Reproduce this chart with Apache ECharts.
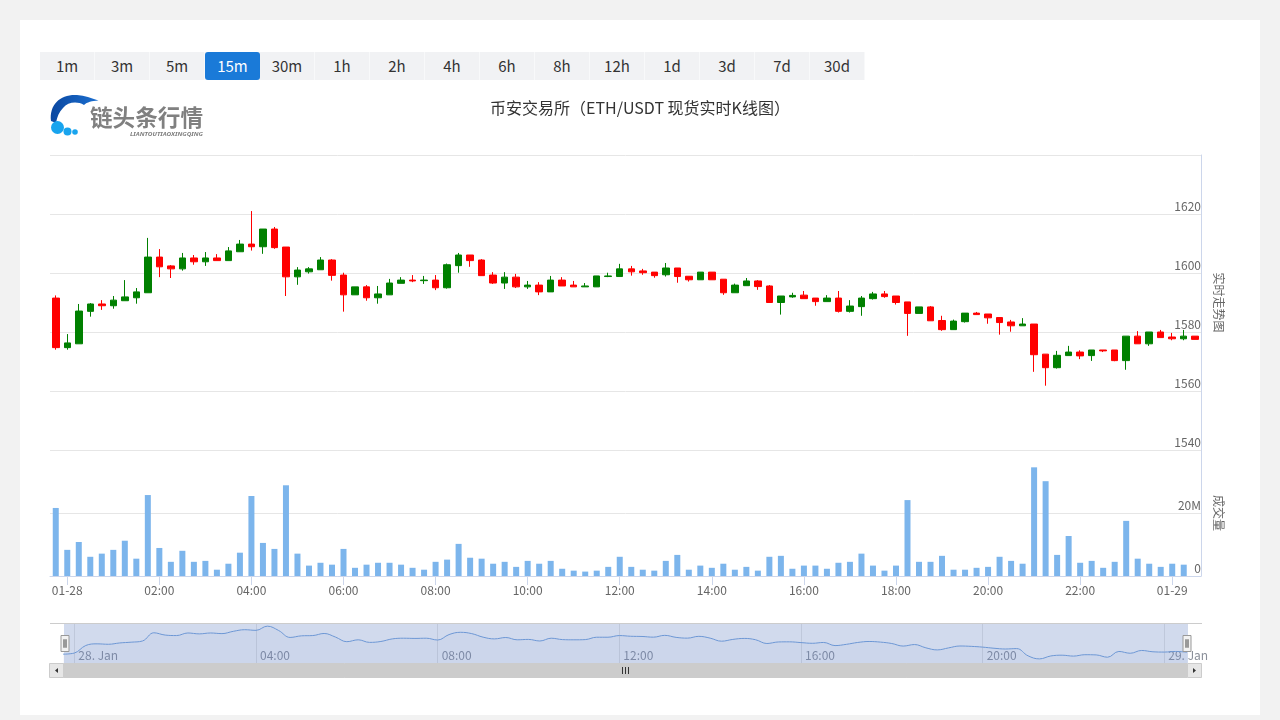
<!DOCTYPE html>
<html>
<head>
<meta charset="utf-8">
<script src="https://cdn.jsdelivr.net/npm/echarts@6.0.0/dist/echarts.min.js"></script>
<style>
html,body{margin:0;padding:0;background:#f2f2f2;width:1280px;height:720px;overflow:hidden;font-family:'Noto Sans CJK SC','Noto Sans',sans-serif;}
#card{position:absolute;left:20px;top:20px;width:1240px;height:695px;background:#fff;}
#chart{position:absolute;left:0;top:0;width:1280px;height:720px;}
#btns{position:absolute;left:40px;top:52px;height:28px;display:flex;background:#f1f2f4;}
.b{width:55px;height:28px;line-height:28px;text-align:center;font-size:15px;color:#333;box-sizing:border-box;border-right:1px solid #f8f9fa;}
.b.on{background:#1a7ad8;color:#fff;border-radius:3px;border-right:none;}
#logo{position:absolute;left:40px;top:88px;}
</style>
</head>
<body>
<div id="card"></div>
<div id="chart"></div>
<div id="btns"></div>
<svg id="logo" width="180" height="55" viewBox="40 88 180 55">
  <defs><linearGradient id="lg" x1="0" y1="0" x2="1" y2="0"><stop offset="0" stop-color="#0a47a0"/><stop offset="1" stop-color="#1c6fd0"/></linearGradient></defs>
  <path d="M51,121 C49,104 61,94 77,95 C85,95.5 91,98 98.5,100.5 C92,101 87,102 84,105 C77,101 68,102 63,108 C59,112 57,117 56,123 Z" fill="url(#lg)"/>
  <circle cx="57.5" cy="127.5" r="6.5" fill="#18a4ee"/>
  <circle cx="67.5" cy="131.5" r="4" fill="#18a4ee"/>
  <circle cx="75" cy="132" r="2.8" fill="#18a4ee"/>
  <text x="90" y="125.5" font-size="23" font-weight="bold" fill="#808080" font-family="Noto Sans CJK SC" textLength="113" lengthAdjust="spacingAndGlyphs">链头条行情</text>
  <text x="130" y="135.5" font-size="6" font-weight="bold" font-style="italic" fill="#808080" font-family="Noto Sans" textLength="73" lengthAdjust="spacingAndGlyphs">LIANTOUTIAOXINGQING</text>
</svg>
<script>
// ---------- data ----------
const periods = ['1m','3m','5m','15m','30m','1h','2h','4h','6h','8h','12h','1d','3d','7d','30d'];
const activePeriod = '15m';
const titleText = '币安交易所（ETH/USDT 现货实时K线图）';

const opens  = [1591.5,1574.7,1576.0,1587.0,1589.5,1588.9,1590.6,1591.6,1593.3,1605.4,
                1602.4,1601.4,1605.1,1603.8,1605.1,1604.2,1607.2,1609.8,1608.9,1614.9,
                1608.8,1598.7,1600.4,1601.1,1604.4,1599.3,1592.6,1595.3,1591.6,1592.6,
                1596.5,1597.6,1597.4,1597.6,1595.0,1602.5,1606.1,1604.4,1599.3,1596.6,
                1598.6,1595.3,1595.9,1593.6,1597.6,1595.9,1595.3,1595.3,1598.8,1598.8,
                1601.4,1600.7,1600.3,1599.4,1601.7,1598.9,1597.7,1600.3,1597.9,1593.3,
                1595.7,1597.3,1595.6,1590.0,1591.9,1592.5,1591.5,1590.3,1591.5,1587.0,
                1588.6,1591.3,1592.9,1592.2,1590.2,1586.3,1588.5,1583.9,1580.8,1583.5,
                1586.4,1586.1,1584.9,1583.4,1582.1,1582.7,1572.5,1567.9,1572.0,1573.2,
                1572.0,1573.9,1573.9,1570.3,1578.6,1576.0,1580.0,1578.3,1577.7,1578.6];
const closes = [1574.7,1576.3,1587.1,1589.5,1588.9,1590.8,1591.9,1593.6,1605.4,1602.1,
                1601.4,1605.1,1603.8,1605.1,1604.2,1607.5,1609.8,1608.9,1614.9,1608.6,
                1598.7,1601.0,1601.4,1604.4,1599.2,1592.6,1595.3,1591.6,1592.9,1596.6,
                1597.6,1597.3,1597.6,1595.0,1602.8,1606.1,1604.2,1599.1,1596.6,1598.6,
                1595.3,1595.9,1593.6,1597.6,1595.6,1595.3,1595.6,1599.0,1599.0,1601.4,
                1600.4,1600.1,1599.1,1601.7,1598.8,1597.7,1600.3,1597.7,1593.3,1595.9,
                1597.3,1595.4,1590.0,1592.2,1592.4,1591.3,1590.3,1591.5,1587.0,1588.8,
                1591.5,1592.9,1592.0,1590.0,1586.3,1588.5,1583.8,1580.8,1583.7,1586.4,
                1585.9,1584.8,1583.2,1582.1,1582.7,1572.3,1567.9,1572.1,1573.2,1571.9,
                1573.9,1573.6,1570.3,1578.6,1576.0,1580.0,1578.1,1577.7,1578.6,1577.5];
const lows   = [1574.0,1574.0,1576.0,1585.2,1587.5,1587.9,1590.6,1589.6,1593.3,1598.6,
                1598.3,1600.8,1602.8,1602.4,1604.2,1604.2,1607.2,1607.6,1606.5,1608.2,
                1592.2,1596.0,1599.8,1601.1,1597.4,1586.9,1592.6,1590.6,1589.6,1592.6,
                1596.5,1596.9,1596.3,1594.2,1594.7,1600.1,1602.1,1599.1,1596.3,1594.6,
                1594.9,1594.6,1592.5,1593.6,1595.6,1595.3,1595.3,1595.3,1598.6,1598.8,
                1599.1,1599.4,1598.4,1598.8,1596.7,1597.1,1597.7,1597.7,1592.6,1593.3,
                1595.7,1594.3,1590.0,1585.9,1591.6,1591.3,1588.9,1590.3,1586.6,1586.6,
                1585.5,1591.0,1591.6,1589.3,1578.7,1586.3,1583.8,1580.4,1580.8,1583.2,
                1585.9,1582.8,1579.1,1580.1,1582.1,1566.5,1561.8,1567.6,1572.0,1570.8,
                1570.2,1573.2,1570.1,1567.2,1576.0,1575.3,1578.1,1577.2,1577.2,1577.5];
const highs  = [1592.4,1579.3,1589.5,1589.8,1590.8,1592.2,1597.6,1594.9,1611.9,1608.1,
                1602.7,1606.8,1606.1,1607.1,1606.4,1608.8,1611.2,1621.0,1614.9,1615.6,
                1608.8,1602.0,1602.0,1605.4,1604.7,1600.1,1595.3,1595.9,1595.6,1598.0,
                1598.6,1599.3,1599.0,1599.3,1603.2,1606.8,1606.1,1604.7,1600.3,1600.3,
                1599.7,1597.3,1596.9,1599.0,1598.6,1597.3,1596.6,1599.0,1600.1,1603.1,
                1602.4,1601.4,1600.3,1603.4,1601.7,1598.9,1600.3,1600.3,1597.9,1596.4,
                1598.3,1597.6,1595.9,1592.2,1593.3,1593.9,1591.5,1592.5,1593.9,1590.8,
                1592.2,1593.6,1593.9,1592.2,1590.2,1588.5,1588.8,1585.5,1584.2,1586.4,
                1586.8,1586.1,1584.9,1584.1,1584.7,1582.7,1572.5,1573.6,1575.3,1573.8,
                1573.9,1573.9,1573.9,1578.6,1580.3,1580.0,1580.7,1579.7,1580.7,1578.6];
// volume in millions
const volumesM = [21.6,8.3,10.8,6.1,7.1,8.3,11.2,5.5,25.7,8.9,
                  4.5,8.0,4.5,4.8,2.0,3.9,7.4,25.4,10.5,8.6,
                  28.8,7.1,3.3,4.2,3.6,8.6,2.6,3.6,4.2,4.2,
                  3.6,2.6,2.0,4.5,5.2,10.2,5.8,5.5,3.9,4.5,
                  2.9,4.8,3.9,4.8,2.3,1.7,1.4,1.7,2.9,6.1,
                  2.9,2.0,1.7,4.8,6.7,2.0,3.3,2.6,3.9,2.0,
                  2.9,1.7,6.1,6.4,2.3,3.3,3.3,2.3,4.2,4.5,
                  7.1,3.3,1.7,3.3,24.1,4.5,4.5,6.4,2.0,2.0,
                  2.6,2.9,6.1,4.8,3.9,34.5,30.1,6.7,12.7,4.2,
                  4.8,2.6,4.5,17.5,5.5,3.9,2.9,3.9,3.6,0];

// time categories: 15-minute candles starting 01-27 23:45
const firstCandle = Date.UTC(2023, 0, 27, 23, 45);
const pad = n => (n < 10 ? '0' : '') + n;
const times = opens.map((_, i) => {
  const d = new Date(firstCandle + i * 15 * 60000);
  return pad(d.getUTCMonth() + 1) + '-' + pad(d.getUTCDate()) + ' ' + pad(d.getUTCHours()) + ':' + pad(d.getUTCMinutes());
});

// ---------- buttons ----------
const btns = document.getElementById('btns');
periods.forEach(p => {
  const d = document.createElement('div');
  d.className = 'b' + (p === activePeriod ? ' on' : '');
  d.textContent = p;
  btns.appendChild(d);
});

// ---------- chart ----------
const candleData = opens.map((o, i) => [o, closes[i], lows[i], highs[i]]);
const volData = volumesM.map(v => v * 1e6);

const hh = v => parseInt(v.slice(6, 8), 10);
const mm = v => v.slice(9, 11);
const every2h = (idx, v) => mm(v) === '00' && hh(v) % 2 === 0;
const every4h = (idx, v) => mm(v) === '00' && hh(v) % 4 === 0;
const FONT = "'Noto Sans CJK SC','Noto Sans',sans-serif";

const chart = echarts.init(document.getElementById('chart'), null, {renderer: 'canvas'});
const axisLabelY = {inside: true, margin: 0, verticalAlign: 'bottom', padding: [0, 0, 2, 0], color: '#666', fontSize: 12, fontFamily: FONT, showMaxLabel: false};

chart.setOption({
  animation: false,
  textStyle: {fontFamily: FONT},
  title: {text: titleText, left: 'center', top: 100, padding: 0,
          textStyle: {fontSize: 16, fontWeight: 'normal', color: '#333', fontFamily: FONT}},
  grid: [
    {left: 50, right: 79, top: 155, height: 295},
    {left: 50, right: 79, top: 450, height: 126},
    {left: 63, right: 93, top: 624, height: 39}
  ],
  xAxis: [
    {type: 'category', gridIndex: 0, data: times, boundaryGap: true,
     axisLine: {show: false}, axisTick: {show: false}, axisLabel: {show: false}, splitLine: {show: false}},
    {type: 'category', gridIndex: 1, data: times, boundaryGap: true,
     axisLine: {show: true, lineStyle: {color: '#ccd6eb'}},
     axisTick: {show: true, alignWithLabel: true, interval: every2h, length: 9, lineStyle: {color: '#ccd6eb'}},
     axisLabel: {interval: every2h, margin: 8, color: '#666', fontSize: 12,
                 formatter: v => (v.slice(6) === '00:00' ? v.slice(0, 5) : v.slice(6))},
     splitLine: {show: false}},
    {type: 'category', gridIndex: 2, data: times, boundaryGap: false,
     axisLine: {show: false}, axisTick: {show: false},
     axisLabel: {inside: true, interval: every4h, margin: 2, align: 'left', padding: [0, 0, 0, 4],
                 color: '#8a8f99', fontSize: 12,
                 formatter: v => (v.slice(6) === '00:00' ? parseInt(v.slice(3, 5), 10) + '. Jan' : v.slice(6))},
     splitLine: {show: true, interval: every4h, lineStyle: {color: '#e6e6e6', width: 1}}}
  ],
  yAxis: [
    {type: 'value', gridIndex: 0, position: 'right', min: 1540, max: 1640, interval: 20,
     axisLine: {show: true, lineStyle: {color: '#ccd6eb'}}, axisTick: {show: false},
     axisLabel: Object.assign({}, axisLabelY, {formatter: v => String(v)}),
     splitLine: {lineStyle: {color: '#e6e6e6'}},
     name: '实时走势图', nameLocation: 'middle', nameRotate: -90, nameGap: 12,
     nameTextStyle: {color: '#666', fontSize: 12}},
    {type: 'value', gridIndex: 1, position: 'right', min: 0, max: 40e6, interval: 20e6,
     axisLine: {show: true, lineStyle: {color: '#ccd6eb'}}, axisTick: {show: false},
     axisLabel: Object.assign({}, axisLabelY, {formatter: v => (v === 0 ? '0' : v / 1e6 + 'M')}),
     splitLine: {lineStyle: {color: '#e6e6e6'}},
     name: '成交量', nameLocation: 'middle', nameRotate: -90, nameGap: 12,
     nameTextStyle: {color: '#666', fontSize: 12}},
    {type: 'value', gridIndex: 2, min: 1562, max: 1618, show: false}
  ],
  dataZoom: [{
    type: 'slider', xAxisIndex: [0, 1], start: 0, end: 100,
    left: 63, right: 93, top: 624, height: 39,
    backgroundColor: 'rgba(0,0,0,0)', borderColor: 'rgba(0,0,0,0)',
    fillerColor: 'rgba(102,133,194,0.3)',
    showDataShadow: false, showDetail: false, brushSelect: false, moveHandleSize: 0,
    handleIcon: 'path://M0,0H8V16H0Z M2.5,4H3.5V12H2.5Z M4.5,4H5.5V12H4.5Z',
    handleSize: 16,
    handleStyle: {color: '#f2f2f2', borderColor: '#999', borderWidth: 1},
    emphasis: {handleStyle: {color: '#f2f2f2', borderColor: '#999'}}
  }],
  series: [
    {type: 'candlestick', xAxisIndex: 0, yAxisIndex: 0, data: candleData, barWidth: 7,
     itemStyle: {color: '#008000', color0: '#ff0000', borderColor: '#008000', borderColor0: '#ff0000', borderWidth: 1}},
    {type: 'bar', xAxisIndex: 1, yAxisIndex: 1, data: volData, barWidth: 6,
     itemStyle: {color: '#7cb5ec'}},
    {type: 'line', xAxisIndex: 2, yAxisIndex: 2, data: closes, smooth: 0.4, symbol: 'none', silent: true,
     lineStyle: {color: '#6f9fdc', width: 1}, areaStyle: {color: 'rgba(51,92,173,0.05)'}}
  ],
  graphic: [
    {type: 'line', shape: {x1: 50, y1: 623.5, x2: 1202, y2: 623.5}, style: {stroke: '#cccccc', lineWidth: 1}, z: 10},
    {type: 'rect', shape: {x: 49.5, y: 663.5, width: 1152, height: 14}, style: {fill: '#f2f2f2', stroke: '#f2f2f2'}, z: 10},
    {type: 'rect', shape: {x: 63.5, y: 663.5, width: 1123.5, height: 14}, style: {fill: '#cccccc', stroke: '#cccccc'}, z: 10},
    {type: 'rect', shape: {x: 49.5, y: 663.5, width: 14, height: 14}, style: {fill: '#e6e6e6', stroke: '#cccccc'}, z: 11},
    {type: 'rect', shape: {x: 1187.5, y: 663.5, width: 14, height: 14}, style: {fill: '#e6e6e6', stroke: '#cccccc'}, z: 11},
    {type: 'polygon', shape: {points: [[55, 670.5], [58, 668], [58, 673]]}, style: {fill: '#333'}, z: 12},
    {type: 'polygon', shape: {points: [[1196, 670.5], [1193, 668], [1193, 673]]}, style: {fill: '#333'}, z: 12},
    {type: 'line', shape: {x1: 622.5, y1: 667, x2: 622.5, y2: 674}, style: {stroke: '#333', lineWidth: 1}, z: 12},
    {type: 'line', shape: {x1: 625.5, y1: 667, x2: 625.5, y2: 674}, style: {stroke: '#333', lineWidth: 1}, z: 12},
    {type: 'line', shape: {x1: 628.5, y1: 667, x2: 628.5, y2: 674}, style: {stroke: '#333', lineWidth: 1}, z: 12}
  ]
});
</script>
</body>
</html>
